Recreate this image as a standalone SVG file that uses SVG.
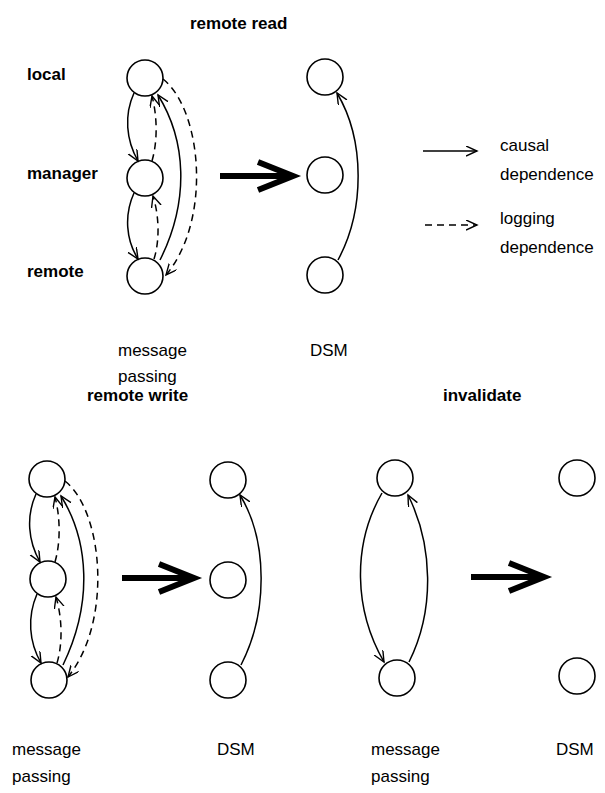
<svg xmlns="http://www.w3.org/2000/svg" width="605" height="793" viewBox="0 0 605 793">
<defs>
<marker id="oa" markerUnits="userSpaceOnUse" markerWidth="14" markerHeight="12" refX="11" refY="5" orient="auto">
<path d="M0,0 L11,5 L0,10" fill="none" stroke="#000" stroke-width="1.4"/>
</marker>
<style>
.n{fill:#fff;stroke:#000;stroke-width:1.6}
.s{fill:none;stroke:#000;stroke-width:1.5;marker-end:url(#oa)}
.d{fill:none;stroke:#000;stroke-width:1.5;stroke-dasharray:7,5;marker-end:url(#oa)}
.big{fill:none;stroke:#000;stroke-width:6}
.t{font-family:"Liberation Sans",Arial,sans-serif;font-size:17px;fill:#000}
.b{font-family:"Liberation Sans",Arial,sans-serif;font-size:17px;font-weight:bold;fill:#000}
</style>
</defs>
<rect width="605" height="793" fill="#fff"/>

<g id="labels">
<text class="b" x="190" y="29">remote read</text>
<text class="b" x="27" y="80">local</text>
<text class="b" x="27" y="179">manager</text>
<text class="b" x="27" y="277">remote</text>
<text class="t" x="118" y="356">message</text>
<text class="t" x="118" y="382">passing</text>
<text class="t" x="310" y="356">DSM</text>
<text class="b" x="87" y="401">remote write</text>
<text class="b" x="443" y="401">invalidate</text>
<text class="t" x="12" y="755">message</text>
<text class="t" x="12" y="782">passing</text>
<text class="t" x="217" y="755">DSM</text>
<text class="t" x="371" y="755">message</text>
<text class="t" x="371" y="782">passing</text>
<text class="t" x="556" y="755">DSM</text>
</g>

<g id="legend">
<path class="s" d="M423,151 L477,151"/>
<text class="t" x="500" y="151">causal</text>
<text class="t" x="500" y="180">dependence</text>
<path class="d" d="M425,225 L477,225"/>
<text class="t" x="500" y="224">logging</text>
<text class="t" x="500" y="253">dependence</text>
</g>

<g id="rr-local"><circle class="n" cx="145" cy="78" r="18"/></g>
<g id="rr-manager"><circle class="n" cx="145" cy="178" r="18"/></g>
<g id="rr-remote"><circle class="n" cx="145" cy="276" r="18"/></g>
<g id="rr-dsm-local"><circle class="n" cx="325" cy="77" r="18"/></g>
<g id="rr-dsm-manager"><circle class="n" cx="325" cy="175" r="18"/></g>
<g id="rr-dsm-remote"><circle class="n" cx="325" cy="275" r="18"/></g>

<g id="rw-local"><circle class="n" cx="47" cy="479" r="18"/></g>
<g id="rw-manager"><circle class="n" cx="48" cy="579" r="18"/></g>
<g id="rw-remote"><circle class="n" cx="49" cy="680" r="18"/></g>
<g id="rw-dsm-local"><circle class="n" cx="228" cy="480" r="18"/></g>
<g id="rw-dsm-manager"><circle class="n" cx="228" cy="580" r="18"/></g>
<g id="rw-dsm-remote"><circle class="n" cx="228" cy="680" r="18"/></g>

<g id="inv-top"><circle class="n" cx="395" cy="478" r="18"/></g>
<g id="inv-bottom"><circle class="n" cx="397" cy="678" r="18"/></g>
<g id="inv-dsm-top"><circle class="n" cx="577" cy="478" r="18"/></g>
<g id="inv-dsm-bottom"><circle class="n" cx="577" cy="676" r="18"/></g>

<g id="connectors">
<path class="s" d="M134,93 C124,115 126,140 138,161"/>
<path class="s" d="M134,193 C124,215 126,240 138,259"/>
<path class="d" d="M152,161 C158,140 157,115 152,96"/>
<path class="d" d="M154,259 C160,240 159,215 153,196"/>
<path class="s" d="M160,260 C190,200 186,140 158,95"/>
<path class="d" d="M163,79 C202,110 212,220 166,275"/>
<path class="s" d="M338,260 C365,210 365,140 337,93"/>
<path class="big" d="M220,176 L292,176 M258,162 L293,176 L258,190"/>

<path class="s" d="M36,494 C26,516 28,541 40,562"/>
<path class="s" d="M37,594 C27,617 29,642 41,663"/>
<path class="d" d="M55,562 C61,541 60,516 55,497"/>
<path class="d" d="M57,663 C63,643 62,617 56,597"/>
<path class="s" d="M63,665 C93,603 89,541 61,496"/>
<path class="d" d="M65,481 C103,511 113,621 68,677"/>
<path class="s" d="M241,665 C268,613 268,541 240,495"/>
<path class="big" d="M122,578 L193,578 M159,564 L194,578 L159,592"/>

<path class="s" d="M382,493 C352,545 354,610 384,662"/>
<path class="s" d="M409,662 C435,610 433,545 408,495"/>
<path class="big" d="M471,577 L543,577 M509,563 L544,577 L509,591"/>
</g>
</svg>
